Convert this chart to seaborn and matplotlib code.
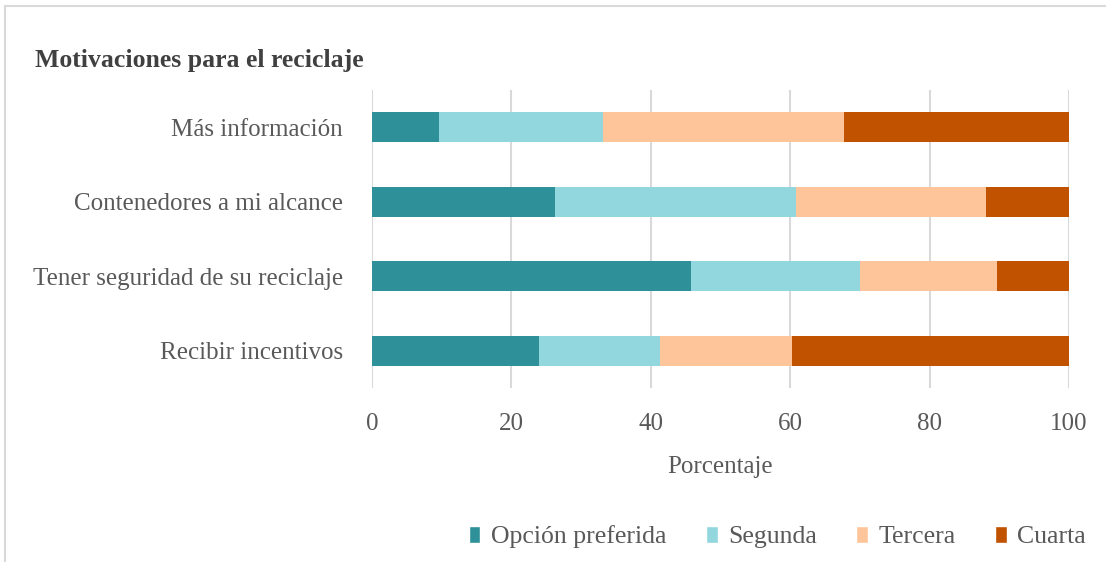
import matplotlib
matplotlib.use("Agg")
import matplotlib.pyplot as plt
from matplotlib.patches import Rectangle, Patch
import seaborn as sns
import numpy as np
import pandas as pd

categorias = ["Más información", "Contenedores a mi alcance",
              "Tener seguridad de su reciclaje", "Recibir incentivos"]
series = ["Opción preferida", "Segunda", "Tercera", "Cuarta"]
opcion_preferida = [9.6, 26.3, 45.8, 24.0]
segunda = [23.6, 34.5, 24.2, 17.3]
tercera = [34.5, 27.3, 19.6, 18.9]
cuarta = [32.3, 11.9, 10.4, 39.8]
colores = ["#2E9199", "#92D7DE", "#FEC59B", "#C05200"]
ticks_x = [0, 20, 40, 60, 80, 100]

sns.set_style("white")
plt.rcParams["font.family"] = ["Liberation Serif", "DejaVu Serif"]
gris = "#595959"
fs = 18

df = pd.DataFrame({"categoria": categorias,
                   "Opción preferida": opcion_preferida,
                   "Segunda": segunda,
                   "Tercera": tercera,
                   "Cuarta": cuarta})
acum = df[series].cumsum(axis=1)

fig = plt.figure(figsize=(11.06, 5.62), dpi=100)
ax = fig.add_axes([372 / 1106, 1 - 388 / 562, (1069 - 372) / 1106, (388 - 90) / 562])

# stacked bars: draw cumulative totals from the largest down
for s, c in reversed(list(zip(series, colores))):
    sns.barplot(x=acum[s], y=df["categoria"], color=c, width=0.4,
                orient="h", ax=ax, saturation=1, linewidth=0, zorder=3)

ax.set_xlim(0, 100)
ax.set_ylim(3.5, -0.5)
ax.set_xticks(ticks_x)
ax.grid(axis="x", color="#D9D9D9", lw=1.5, zorder=0)
ax.set_axisbelow(True)
for sp in ax.spines.values():
    sp.set_visible(False)
ax.tick_params(axis="y", length=0, pad=21, labelsize=fs, labelcolor=gris)
ax.tick_params(axis="x", length=0, pad=18, labelsize=fs, labelcolor=gris)
ax.set_ylabel("")
ax.set_xlabel("Porcentaje", fontsize=18, color=gris, labelpad=15)

fig.text(35 / 1106, 1 - 60 / 562, "Motivaciones para el reciclaje",
         fontsize=18.5, fontweight="bold", color="#404040", va="center")

fig.patches.append(Rectangle((5 / 1106, -0.1), 1.1, 1 - 6 / 562 + 0.1,
                             transform=fig.transFigure, fill=False,
                             edgecolor="#D9D9D9", lw=1.5))

handles = [Patch(facecolor=c, label=s) for s, c in zip(series, colores)]
fig.legend(handles=handles, loc="center right", bbox_to_anchor=(1086 / 1106, 1 - 537 / 562),
           ncol=4, frameon=False, fontsize=18.5, labelcolor=gris,
           handlelength=0.45, handleheight=0.6, handletextpad=0.4,
           columnspacing=1.55, borderaxespad=0, borderpad=0)

fig.savefig("out.png", dpi=100)
